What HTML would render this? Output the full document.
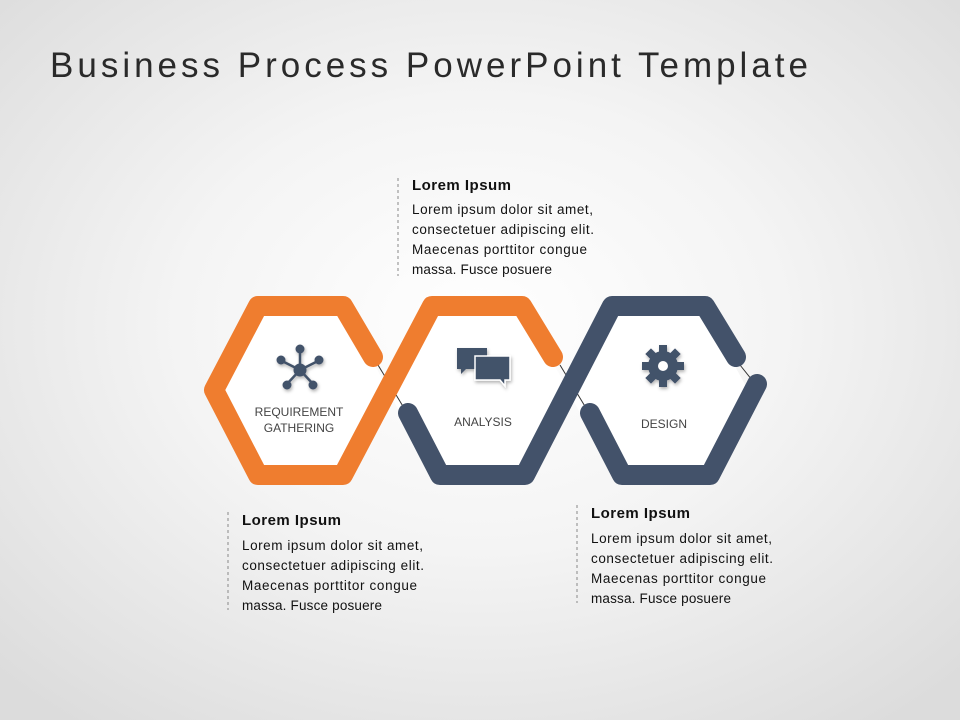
<!DOCTYPE html>
<html><head><meta charset="utf-8"><style>
html,body{margin:0;padding:0}
body{width:960px;height:720px;overflow:hidden;background:radial-gradient(ellipse 70% 70% at 50% 45%,#ffffff 0%,#f4f4f4 45%,#dcdcdc 100%);font-family:"Liberation Sans",sans-serif}
</style></head><body>
<svg width="960" height="720" viewBox="0 0 960 720" xmlns="http://www.w3.org/2000/svg" style="position:absolute;left:0;top:0">
<defs><filter id="sh" x="-20%" y="-20%" width="140%" height="140%"><feDropShadow dx="1" dy="2" stdDeviation="1.5" flood-opacity="0.3"/></filter></defs>
<text x="50" y="77" font-size="35" fill="#2a2a2a" textLength="758" lengthAdjust="spacing" font-family="Liberation Sans, sans-serif">Business Process PowerPoint Template</text>
<polygon points="258,306 343,306 388,390 343,475 258,475 214,390" fill="#fff"/>
<polygon points="432,306 522,306 568,390 522,475 432,475 388,390" fill="#fff"/>
<polygon points="612,306 702,306 748,390 702,475 612,475 568,390" fill="#fff"/>
<g stroke="#333" stroke-width="1">
<line x1="378" y1="365" x2="404" y2="408"/>
<line x1="560" y1="365" x2="586" y2="408"/>
<line x1="740" y1="365" x2="756" y2="385"/>
</g>
<g fill="none" stroke-width="20" stroke-linecap="round" stroke-linejoin="round">
<path d="M373,357 L343,306 L258,306 L214,390 L258,475 L343,475 L432,306 L522,306 L553,357" stroke="#ef7d2f"/>
<path d="M408,413 L440,475 L525,475 L612,306 L705,306 L736,357" stroke="#43526a"/>
<path d="M590,413 L622,475 L710,475 L757,384" stroke="#43526a"/>
</g>
<g fill="#43526a" stroke="#43526a" filter="url(#sh)">
<g stroke-width="2.5"><line x1="300" y1="370" x2="300" y2="350"/><line x1="300" y1="370" x2="282" y2="361"/><line x1="300" y1="370" x2="318" y2="361"/><line x1="300" y1="370" x2="287" y2="384"/><line x1="300" y1="370" x2="313" y2="384"/></g>
<circle cx="300" cy="370" r="6"/><circle cx="300" cy="349" r="4"/><circle cx="281" cy="360" r="4"/><circle cx="319" cy="360" r="4"/><circle cx="287" cy="385" r="4"/><circle cx="313" cy="385" r="4"/>
<path d="M457,348 h30 v21 h-21 l-5,5 v-5 h-4z" stroke="none"/>
<path d="M475,356 h35 v24 h-5 v6 l-5,-6 h-25z" stroke="#fff" stroke-width="1.5"/>
<g transform="translate(663,366)" stroke="none"><circle r="15"/>
<g><rect x="-4" y="-21" width="8" height="8"/><rect x="-4" y="13" width="8" height="8"/><rect x="-21" y="-4" width="8" height="8"/><rect x="13" y="-4" width="8" height="8"/>
<g transform="rotate(45)"><rect x="-4" y="-21" width="8" height="8"/><rect x="-4" y="13" width="8" height="8"/><rect x="-21" y="-4" width="8" height="8"/><rect x="13" y="-4" width="8" height="8"/></g></g>
<circle r="5" fill="#fff"/></g>
</g>
<g font-size="12" fill="#444" text-anchor="middle">
<text x="299" y="416">REQUIREMENT</text><text x="299" y="432">GATHERING</text>
<text x="483" y="426">ANALYSIS</text>
<text x="664" y="428">DESIGN</text>
</g>
<g stroke="#888" stroke-width="1" stroke-dasharray="3,3">
<line x1="398" y1="178" x2="398" y2="276"/>
<line x1="228" y1="512" x2="228" y2="610"/>
<line x1="577" y1="505" x2="577" y2="603"/>
</g>
<g fill="#111" font-size="13.5" lengthAdjust="spacingAndGlyphs">
<text x="412" y="190" font-weight="bold" font-size="15" textLength="99">Lorem Ipsum</text>
<text x="412" y="214" textLength="181">Lorem ipsum dolor sit amet,</text><text x="412" y="234" textLength="182">consectetuer adipiscing elit.</text><text x="412" y="254" textLength="175">Maecenas porttitor  congue</text><text x="412" y="274" textLength="140">massa. Fusce posuere</text>
<text x="242" y="525" font-weight="bold" font-size="15" textLength="99">Lorem Ipsum</text>
<text x="242" y="550" textLength="181">Lorem ipsum dolor sit amet,</text><text x="242" y="570" textLength="182">consectetuer adipiscing elit.</text><text x="242" y="590" textLength="175">Maecenas porttitor  congue</text><text x="242" y="610" textLength="140">massa. Fusce posuere</text>
<text x="591" y="518" font-weight="bold" font-size="15" textLength="99">Lorem Ipsum</text>
<text x="591" y="543" textLength="181">Lorem ipsum dolor sit amet,</text><text x="591" y="563" textLength="182">consectetuer adipiscing elit.</text><text x="591" y="583" textLength="175">Maecenas porttitor  congue</text><text x="591" y="603" textLength="140">massa. Fusce posuere</text>
</g>
</svg>
</body></html>
